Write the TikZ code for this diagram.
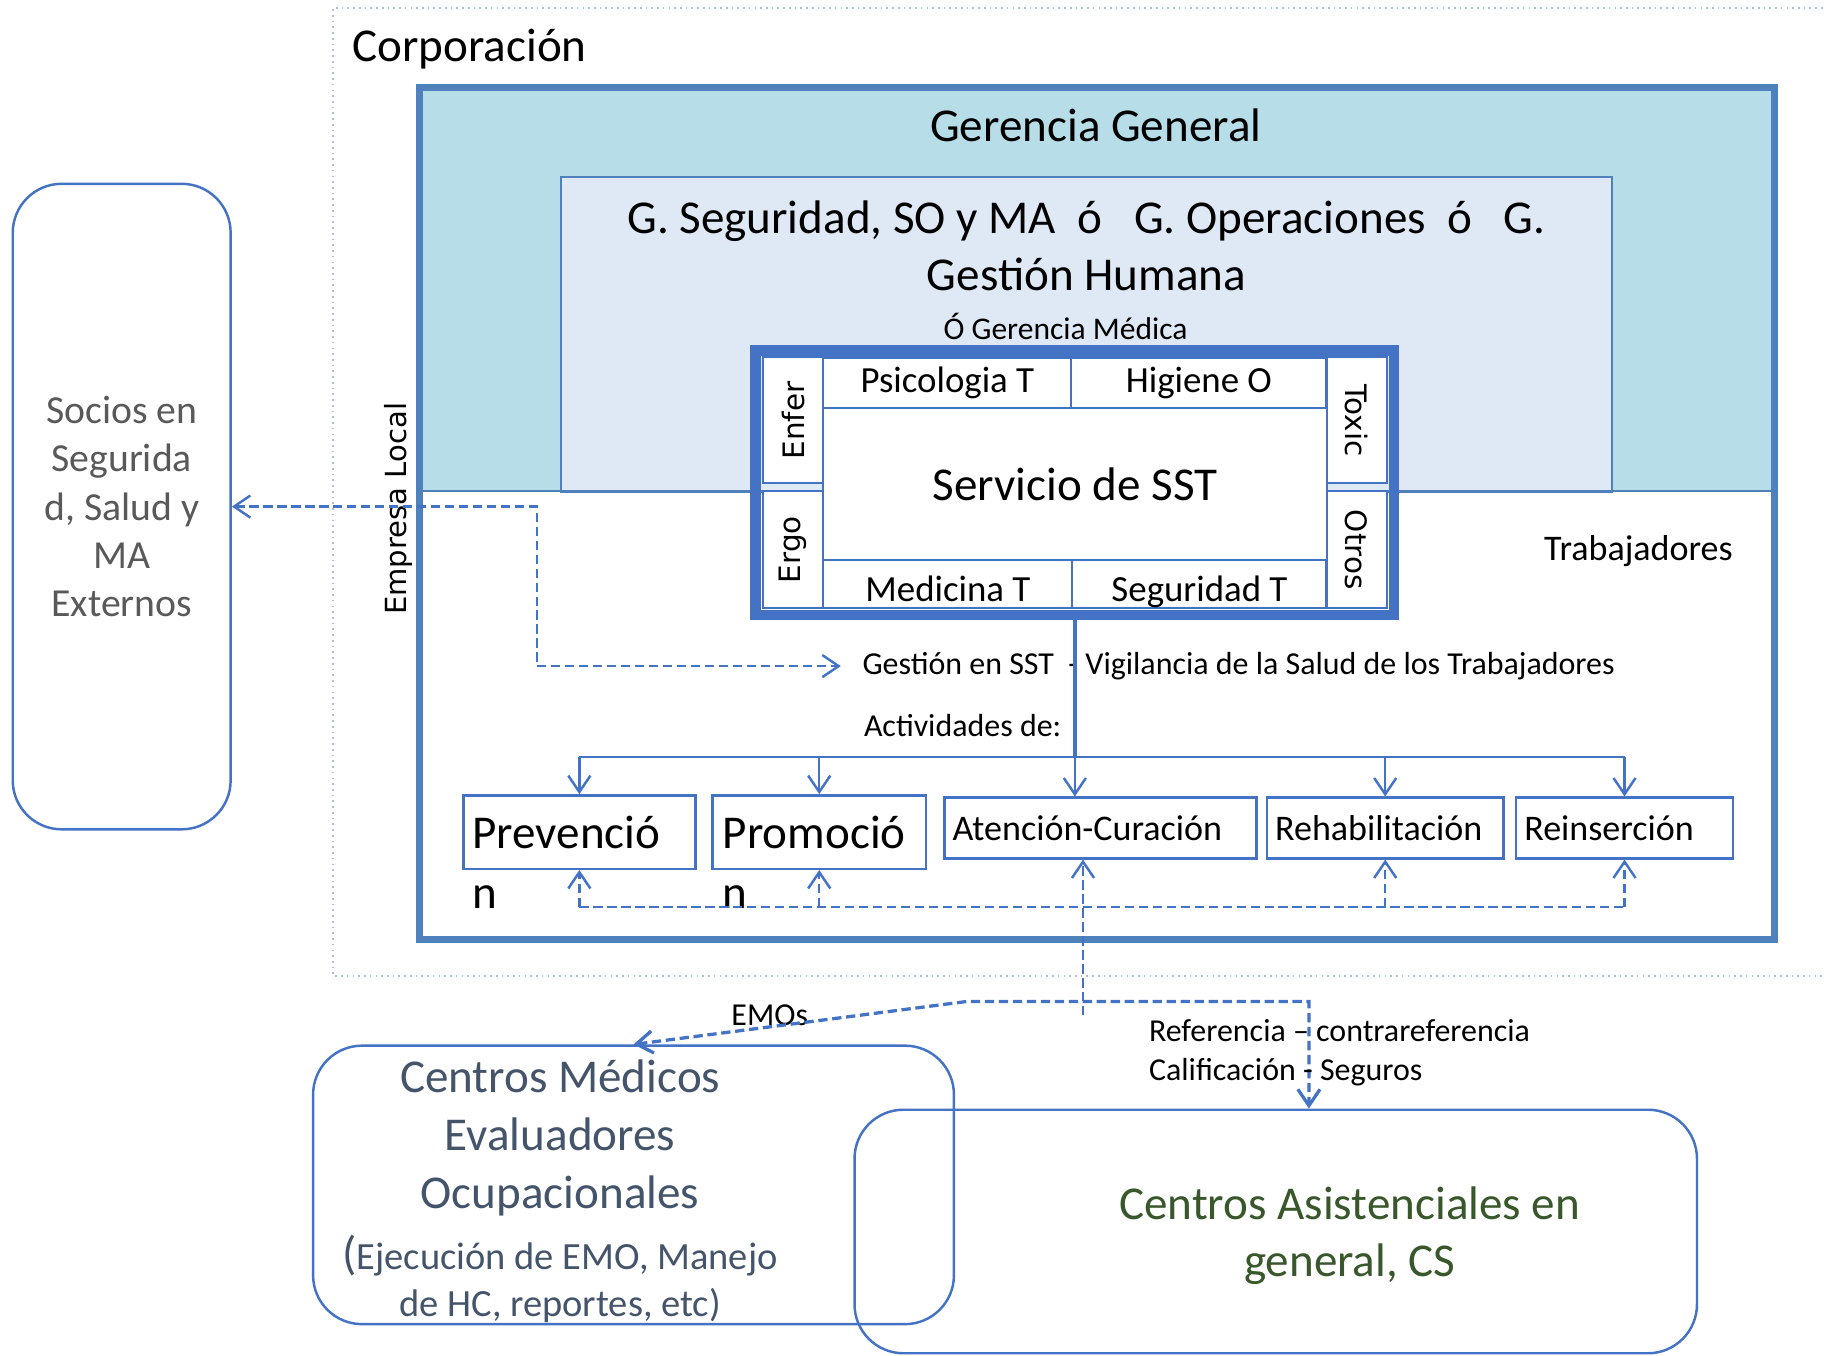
\documentclass[tikz,border=0pt]{standalone}
\usepackage{fontspec}
\setmainfont{Carlito}
\newfontfamily\rotfont{DejaVu Sans}
\usetikzlibrary{arrows.meta,positioning}
\definecolor{frameblue}{HTML}{4F81BD}
\definecolor{sstblue}{HTML}{4472C4}
\definecolor{tealfill}{HTML}{B7DDE8}
\definecolor{palefill}{HTML}{DEE9F5}
\definecolor{sociosgray}{HTML}{595959}
\definecolor{slate}{HTML}{44546A}
\definecolor{darkgreen}{HTML}{38572A}
\definecolor{dotblue}{HTML}{A9C0E0}

\begin{document}
\begin{tikzpicture}[x=0.01cm,y=-0.01cm,>={Straight Barb[length=1.4mm,width=1.9mm]}]
\tikzstyle{big} = [font=\fontsize{11.5}{14.1}\selectfont, inner sep=0]
\tikzstyle{small} = [font=\fontsize{7.8}{9.6}\selectfont, inner sep=0]
\tikzstyle{cell} = [draw=sstblue, line width=0.5pt, fill=white, inner sep=0, font=\fontsize{9}{10}\selectfont]
\tikzstyle{sidecell} = [cell, font=\rotfont\fontsize{7.2}{8}\selectfont]
\tikzstyle{actbox} = [draw=sstblue, line width=0.6pt, inner sep=0, font=\fontsize{8.8}{10}\selectfont]
\tikzstyle{acttext} = [actbox, align=left, inner xsep=0.07cm]
\tikzstyle{roundbox} = [draw=sstblue, line width=0.6pt, rounded corners=0.42cm, inner sep=0]
\tikzstyle{tree} = [->, draw=sstblue, line width=0.6pt]
\tikzstyle{dashlink} = [draw=sstblue, line width=0.6pt, dash pattern=on 0.8mm off 0.4mm]
\useasboundingbox (0,0) rectangle (1568,1164);

% corporacion
\draw[dotblue, line width=0.4pt, densely dotted] (1570,7) -- (286,7) -- (286,838) -- (1570,838);
\node[big, anchor=west] (corp) at (302,42) {Corporación};

% empresa local
\fill[tealfill] (360,75) rectangle (1524,422);
\node[draw=frameblue, fill=palefill, line width=0.5pt, minimum width=9.02cm, minimum height=2.70cm, inner sep=0] (gsso) at (933,287) {};
\draw[frameblue, line width=0.5pt] (360,422) -- (1524,422);
\draw[frameblue, line width=1.8pt] (360,75) rectangle (1524,807);
\node[big] (gergen) at (941,108) {Gerencia General};
\node[big, align=center] (gssotxt) at (933,211) {G. Seguridad, SO y MA~~ó~~~G. Operaciones~~ó~~~G.\\Gestión Humana};
\node[font=\fontsize{7.7}{9}\selectfont, inner sep=0] (germed) at (915,280) {Ó Gerencia Médica};
\node[rotate=90, font=\rotfont\fontsize{7.1}{9}\selectfont, inner sep=0] (emp) at (342,437) {Empresa Local};
\node[font=\fontsize{8.8}{10}\selectfont, inner sep=0] (trab) at (1407,473) {Trabajadores};

% servicio de SST
\node[sidecell, rotate=90, minimum width=1.08cm, minimum height=0.52cm] (enfer) at (681,361) {Enfer};
\node[sidecell, rotate=90, minimum width=1.00cm, minimum height=0.52cm] (ergo) at (681,472) {Ergo};
\node[sidecell, rotate=-90, minimum width=1.08cm, minimum height=0.52cm] (toxic) at (1165,361) {Toxic};
\node[sidecell, rotate=-90, minimum width=1.00cm, minimum height=0.52cm] (otros) at (1165,472) {Otros};
\node[cell, minimum width=2.13cm, minimum height=0.43cm] (psico) at (813.5,328.5) {Psicologia T};
\node[cell, minimum width=2.19cm, minimum height=0.43cm] (higiene) at (1029.5,328.5) {Higiene O};
\node[cell, minimum width=2.14cm, minimum height=0.41cm, text height=0.3cm, text depth=0pt] (medic) at (814,501.5) {Medicina T};
\node[cell, minimum width=2.18cm, minimum height=0.41cm, text height=0.3cm, text depth=0pt] (segur) at (1030,501.5) {Seguridad T};
\node[cell, big, draw=sstblue, fill=white, minimum width=4.32cm, minimum height=1.31cm] (sst) at (923,415.5) {Servicio de SST};
\node[draw=sstblue, line width=2.6pt, minimum width=5.48cm, minimum height=2.27cm, inner sep=0] (sstframe) at (923,414.5) {};

% actividades
\node[small, anchor=west, inner xsep=0.18cm] (gestion) at (722,572) {Gestión en SST~~-~Vigilancia de la Salud de los Trabajadores};
\node[small, anchor=east] (activ) at (912,623) {Actividades de:};
\node[actbox, minimum width=1.99cm, minimum height=0.63cm] (prev) at (497.5,714.5) {};
\node[actbox, minimum width=1.83cm, minimum height=0.63cm] (promo) at (703.5,714.5) {};
\node[acttext, text width=2.54cm, minimum height=0.52cm] (aten) at (945,711) {Atención-Curación};
\node[acttext, text width=1.89cm, minimum height=0.52cm] (rehab) at (1189.5,711) {Rehabilitación};
\node[acttext, text width=1.72cm, minimum height=0.52cm] (reins) at (1395,711) {Reinserción};
\node[big, anchor=base west] (prevtxt) at (405,729) {Prevenció};
\node[big, anchor=base west] (prevn) at (405,780) {n};
\node[big, anchor=base west] (promotxt) at (620,729) {Promoció};
\node[big, anchor=base west] (promon) at (620,780) {n};

\coordinate (branch) at (0,650);
\draw[sstblue, line width=0.9pt] (sstframe.south) -- (sstframe.south |- branch);
\draw[sstblue, line width=0.6pt] (prev.north |- branch) -- (reins.north |- branch);
\foreach \b in {prev,promo,rehab,reins}
    \draw[tree] (\b.north |- branch) -- (\b.north);
\draw[tree] (sstframe.south |- branch) -- (sstframe.south |- aten.north);

\coordinate (dline) at (0,779);
\draw[dashlink] (prev.south |- dline) -- (reins.south |- dline);
\foreach \b in {prev,promo,rehab,reins}
    \draw[dashlink, ->] (\b.south |- dline) -- (\b.south);
\coordinate (lowend) at (930,872);
\draw[dashlink, ->] (lowend) -- (lowend |- aten.south);

% socios externos
\node[roundbox, minimum width=1.87cm, minimum height=5.54cm, text=sociosgray, align=center,
      font=\fontsize{9.7}{11.8}\selectfont] (socios) at (104.5,435) {Socios en\\Segurida\\d, Salud y\\MA\\Externos};
\draw[dashlink, <->] (socios.east) -| (461,572) -- (gestion.west);

% centros
\node[roundbox, minimum width=5.50cm, minimum height=2.39cm] (cmed) at (544,1017.5) {};
\node[roundbox, minimum width=7.23cm, minimum height=2.09cm] (casis) at (1095.5,1057.5) {};
\node[big, text=slate, align=center] (cmedtxt) at (481,977) {Centros Médicos\\Evaluadores\\Ocupacionales};
\node[text=slate, align=center, inner sep=0, font=\fontsize{9.4}{11.6}\selectfont] (cmedsub) at (481,1098)
      {{\fontsize{11.5}{11.6}\selectfont(}Ejecución de EMO, Manejo\\de HC, reportes, etc)};
\node[big, text=darkgreen, align=center] (casistxt) at (1159,1061) {Centros Asistenciales en\\general, CS};

\coordinate (kink) at (830,860);
\coordinate (refturn) at (1124,860);
\node[small] (emos) at (661,872) {EMOs};
\draw[dashlink, line width=0.8pt, <->] (cmed.north) -- (kink) -- (refturn) -- (refturn |- casis.north);
\node[small, anchor=west, align=left] (refer) at (986,904) {Referencia -- contrareferencia\\Calificación - Seguros};
\end{tikzpicture}
\end{document}
